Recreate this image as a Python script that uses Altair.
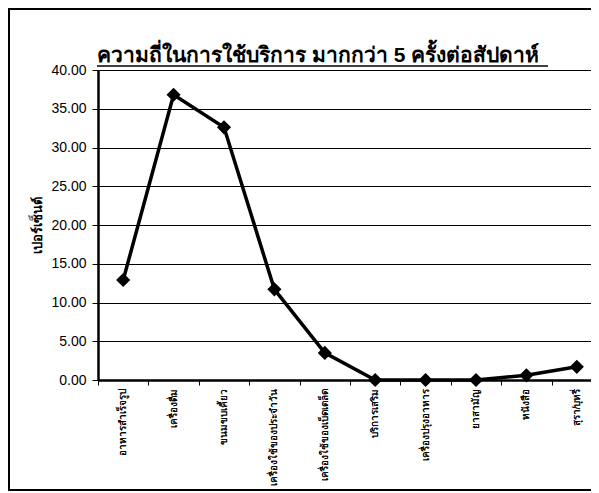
import altair as alt
import pandas as pd

title_text = "ความถี่ในการใช้บริการ มากกว่า 5 ครั้งต่อสัปดาห์"
categories = [
    "อาหารสำเร็จรูป",
    "เครื่องดื่ม",
    "ขนมขบเคี้ยว",
    "เครื่องใช้ของประจำวัน",
    "เครื่องใช้ของเบ็ดเตล็ด",
    "บริการเสริม",
    "เครื่องปรุงอาหาร",
    "ยาสามัญ",
    "หนังสือ",
    "สุรา/บุหรี่",
]
values = [12.9, 36.8, 32.6, 11.7, 3.5, 0.0, 0.0, 0.0, 0.6, 1.7]
y_ticks = [0, 5, 10, 15, 20, 25, 30, 35, 40]

df = pd.DataFrame({"cat": categories, "val": values})
FONT = "Liberation Sans, Arial, sans-serif"

x_scale = alt.Scale(type="band", paddingInner=0, paddingOuter=0, range=[0, 504])
x_enc = alt.X(
    "cat:N",
    sort=categories,
    bandPosition=0.5,
    scale=x_scale,
    axis=alt.Axis(
        title=None, labelAngle=-90, labelFontSize=10, labelColor="black",
        labelFont=FONT, ticks=False, domain=True, domainColor="black",
        domainWidth=2, labelPadding=8, labelLimit=120, orient="bottom",
    ),
)
y_axis = alt.Axis(
    title="เปอร์เซ็นต์", values=y_ticks, format=".2f", grid=True,
    gridColor="black", gridWidth=1, gridOpacity=1, domainColor="black",
    domainWidth=2.5, tickColor="black", tickSize=6, tickWidth=1,
    labelFontSize=14, labelColor="black", labelFont=FONT, labelPadding=6,
    titleFontSize=13, titleFont=FONT, titleFontWeight="bold",
    titleColor="black", titlePadding=6, labelOverlap=False,
)
y_enc = alt.Y("val:Q", scale=alt.Scale(domain=[0, 40], nice=False), axis=y_axis)

base = alt.Chart(df)
line = base.mark_line(color="black", strokeWidth=3.5, clip=False).encode(x=x_enc, y=y_enc)
pts = base.mark_point(shape="diamond", filled=True, color="black", size=200,
                      opacity=1, clip=False).encode(x=x_enc, y=y_enc)

ticks_axis = base.mark_point(opacity=0).encode(
    x=alt.X("cat:N", sort=categories, scale=x_scale,
            axis=alt.Axis(title=None, labels=False, ticks=True, tickBand="extent",
                          tickColor="black", tickSize=5, tickWidth=1,
                          domain=False, orient="bottom")),
    y=y_enc,
)

border = base.mark_rect(fillOpacity=0, stroke="black", strokeWidth=1.5, clip=False).encode(
    x=alt.value(-89), x2=alt.value(520), y=alt.value(-61), y2=alt.value(420)
)

title_df = pd.DataFrame({"t": [title_text]})
title_mark = alt.Chart(title_df).mark_text(
    align="left", baseline="alphabetic", fontSize=21, font=FONT,
    fontWeight="bold", color="black", clip=False,
).encode(text="t:N", x=alt.value(-1), y=alt.value(-8))
underline = alt.Chart(title_df).mark_rule(color="black", strokeWidth=1.5, clip=False).encode(
    x=alt.value(-1), x2=alt.value(450), y=alt.value(-4)
)

chart = alt.layer(border, ticks_axis, line, pts, title_mark, underline).resolve_axis(
    x="independent"
).properties(
    width=493,
    height=310,
    autosize=alt.AutoSizeParams(type="none"),
    padding={"left": 90, "top": 62, "right": 0, "bottom": 113},
).configure_view(stroke=None).configure(background="white")

chart.save("out.html", embed_options={"renderer": "svg", "actions": False})
